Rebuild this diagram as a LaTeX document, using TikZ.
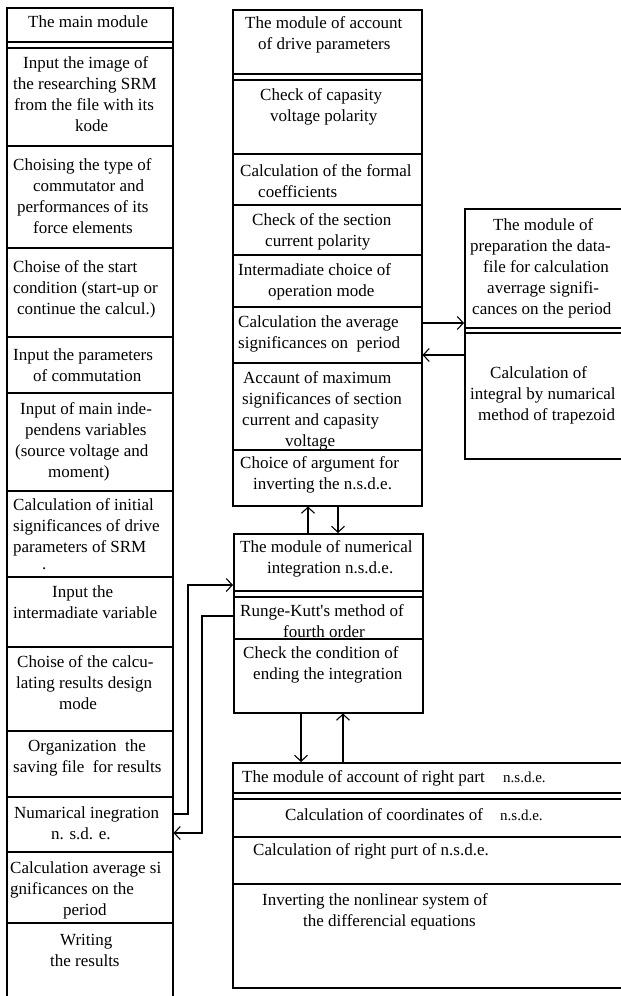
\documentclass[tikz,border=0pt]{standalone}
\usepackage{fontspec}
\setmainfont{Liberation Serif}[Ligatures=TeXOff]
\usetikzlibrary{arrows.meta}
\newcommand\tl[1]{\begin{tabular}[t]{@{}l@{}}#1\end{tabular}}
\begin{document}
\begin{tikzpicture}[x=1pt,y=-1pt,
  frame/.style={draw, line width=1.5pt, inner sep=0pt, anchor=north west},
  sep/.style={line width=1.4pt},
  txt/.style={anchor=base west, inner sep=0pt, font=\fontsize{17}{21}\selectfont},
  smalltxt/.style={anchor=base west, inner sep=0pt, font=\fontsize{15}{18}\selectfont},
  arr/.style={line width=1.4pt, -{Straight Barb[length=6pt,width=13pt,line width=1.1pt]}}]
\useasboundingbox (0,0) rectangle (621,996);
% frames
\node[frame, minimum width=166pt, minimum height=1000pt] (main) at (6,7) {};
\node[frame, minimum width=189pt, minimum height=496pt] (mid) at (232,9) {};
\node[frame, minimum width=170pt, minimum height=250pt] (prep) at (464,208) {};
\node[frame, minimum width=189pt, minimum height=179pt] (num) at (233,533) {};
\node[frame, minimum width=400pt, minimum height=225pt] (rhs) at (232,762) {};
% left column texts
\node[txt] (m1) at (28,27) {The main module};
\node[txt] (m2) at (13,68) {\tl{\hspace*{10pt}Input the image of\\the researching SRM\\\hspace*{1pt}from the file with its\\\hspace*{62pt}kode}};
\node[txt] (m3) at (13,170) {\tl{Choising the type of\\\hspace*{20pt}commutator and\\\hspace*{4pt}performances of its\\\hspace*{20pt}force elements}};
\node[txt] (m4) at (13,272) {\tl{Choise of the start\\condition (start-up or\\\hspace*{4pt}continue the calcul.)}};
\node[txt] (m5) at (13,360) {\tl{Input the parameters\\\hspace*{20pt}of commutation}};
\node[txt] (m6) at (15,414) {\tl{\hspace*{5pt}Input of main inde-\\\hspace*{10pt}pendens variables\\(source voltage and\\\hspace*{33pt}moment)}};
\node[txt] (m7) at (13,510) {\tl{Calculation of initial\\significances of drive\\parameters of SRM}};
\node[txt] (m7d) at (42,569) {.};
\node[txt] (m8) at (13,597) {\tl{\hspace*{39pt}Input the\\intermadiate variable}};
\node[txt] (m9) at (16,667) {\tl{\hspace*{1pt}Choise of the calcu-\\lating results design\\\hspace*{43pt}mode}};
\node[txt] (m10) at (13,751) {\tl{\hspace*{15pt}Organization\ \ the\\saving file\ \ for results}};
\node[txt] (m11) at (14,818) {\tl{Numarical inegration\\\hspace*{37pt}n. s.d. e.}};
\node[txt] (m12) at (10,873) {\tl{Calculation average si\\gnificances on the\\\hspace*{53pt}period}};
\node[txt] (m13) at (50,945) {\tl{\hspace*{10pt}Writing\\the results}};
% middle column texts
\node[txt] (d1) at (245,28) {\tl{The module of account\\\hspace*{13pt}of drive parameters}};
\node[txt] (d2) at (260,100) {\tl{Check of capasity\\\hspace*{10pt}voltage polarity}};
\node[txt] (d3) at (240,176) {\tl{Calculation of the formal\\\hspace*{18pt}coefficients}};
\node[txt] (d4) at (252,225) {\tl{Check of the section\\\hspace*{13pt}current polarity}};
\node[txt] (d5) at (238,275) {\tl{Intermadiate choice of\\\hspace*{30pt}operation mode}};
\node[txt] (d6) at (238,327) {\tl{Calculation the average\\significances on\ \ period}};
\node[txt] (d7) at (242,383) {\tl{\hspace*{1pt}Accaunt of maximum\\significances of section\\current and capasity\\\hspace*{43pt}voltage}};
\node[txt] (d8) at (240,468) {\tl{Choice of argument for\\\hspace*{13pt}inverting the n.s.d.e.}};
% right box texts
\node[txt] (p1) at (470,230) {\tl{\hspace*{23pt}The module of\\preparation the data-\\\hspace*{13pt}file for calculation\\\hspace*{17pt}averrage signifi-\\\hspace*{2pt}cances on the period}};
\node[txt] (p2) at (470,378) {\tl{\hspace*{20pt}Calculation of\\integral by numarical\\\hspace*{8pt}method of trapezoid}};
% numerical integration module texts
\node[txt] (n1) at (240,552) {\tl{The module of numerical\\\hspace*{27pt}integration n.s.d.e.}};
\node[txt] (n2) at (240,616) {\tl{Runge-Kutt's method of\\\hspace*{43pt}fourth order}};
\node[txt] (n3) at (243,658) {\tl{Check the condition of\\\hspace*{10pt}ending the integration}};
% bottom module texts
\node[txt] (r1) at (242,782) {The module of account of right part};
\node[smalltxt] (r1b) at (503,782) {n.s.d.e.};
\node[txt] (r2) at (285,820) {Calculation of coordinates of};
\node[smalltxt] (r2b) at (500,820) {n.s.d.e.};
\node[txt] (r3) at (253,855) {Calculation of right purt of n.s.d.e.};
\node[txt] (r4) at (262,905) {\tl{Inverting the nonlinear system of\\\hspace*{41pt}the differencial equations}};
% separators: main
\foreach \yy in {42,48,146,248,337,393,491,577,647,731,797,852,923}
  \draw[sep] (main.west |- 0,\yy) -- (main.east |- 0,\yy);
% separators: mid
\foreach \yy in {74,80,154,205,255,307,363,450}
  \draw[sep] (mid.west |- 0,\yy) -- (mid.east |- 0,\yy);
% separators: prep
\foreach \yy in {328,333}
  \draw[sep] (prep.west |- 0,\yy) -- (prep.east |- 0,\yy);
% separators: num
\foreach \yy in {591,597,639}
  \draw[sep] (num.west |- 0,\yy) -- (num.east |- 0,\yy);
% separators: rhs
\foreach \yy in {793,799,837,884}
  \draw[sep] (rhs.west |- 0,\yy) -- (rhs.east |- 0,\yy);
% connectors
\draw[arr] (mid.east |- 0,323) -- (prep.west |- 0,323);
\draw[arr] (prep.west |- 0,355) -- (mid.east |- 0,355);
\draw[arr] (num.north -| 308,0) -- (mid.south -| 308,0);
\draw[arr] (mid.south -| 338,0) -- (num.north -| 338,0);
\draw[arr] (num.south -| 301,0) -- (rhs.north -| 301,0);
\draw[arr] (rhs.north -| 343,0) -- (num.south -| 343,0);
\coordinate (b1) at (188,585);
\coordinate (b2) at (202,616);
\draw[arr] (main.east |- 0,814) -| (b1) -- (num.west |- b1);
\draw[arr] (num.west |- b2) -- (b2) |- (main.east |- 0,833);
\end{tikzpicture}
\end{document}
